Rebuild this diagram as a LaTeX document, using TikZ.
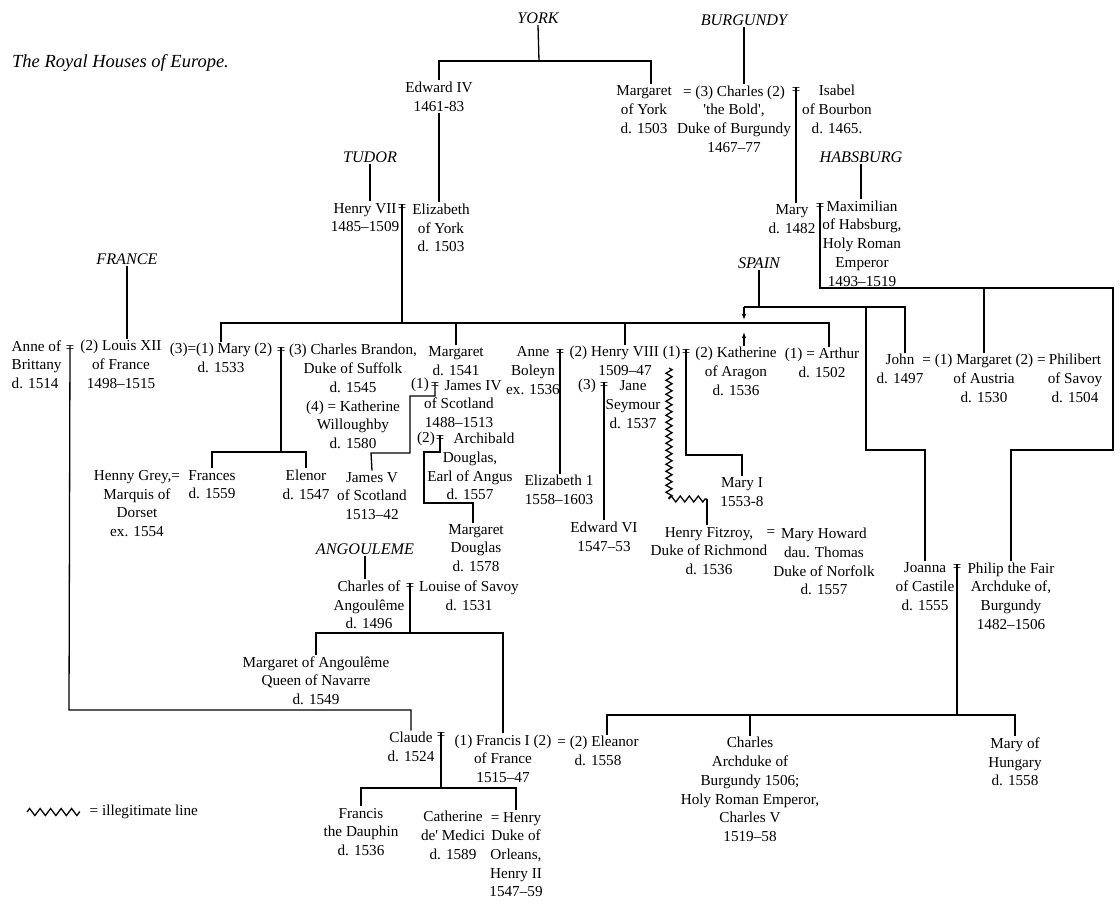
\documentclass[tikz,border=0pt]{standalone}
\usepackage{fontspec}
\setmainfont{Liberation Serif}
\usetikzlibrary{arrows.meta,decorations.pathmorphing}

\begin{document}
\begin{tikzpicture}[
    x=1pt, y=-1pt,
    person/.style={
        align=center, inner sep=1.5pt,
        font=\fontsize{15.2}{18.7}\selectfont
    },
    house/.style={
        inner sep=1.5pt,
        font=\fontsize{16.2}{18}\selectfont\itshape
    },
    wed/.style={
        inner sep=0pt, font=\fontsize{15}{15}\selectfont
    },
    link/.style={
        line width=1.3pt, color=black
    },
    arr/.style={
        link, -{Latex[length=6pt,width=4.5pt]}
    },
    illeg/.style={
        link, decorate,
        decoration={zigzag, segment length=7pt, amplitude=3pt}
    }
]

\useasboundingbox (0,0) rectangle (1120,904);

% Title and houses
\node[anchor=west, inner sep=0pt, font=\fontsize{18.5}{20}\selectfont\itshape] (title) at (12,63) {The Royal Houses of Europe.};
\node[house] (york) at (538,18) {YORK};
\node[house] (burg) at (744,20) {BURGUNDY};
\node[house] (tudor) at (370,157) {TUDOR};
\node[house] (habs) at (861,157) {HABSBURG};
\node[house] (france) at (127,259) {FRANCE};
\node[house] (spain) at (759,263) {SPAIN};
\node[house] (angou) at (365,549) {ANGOULEME};

% Nodes: York, Burgundy, Habsburg
\node[person] (edw) at (439,96.5) {Edward IV\\1461-83};
\node[person] (mgyork) at (644,109.5) {Margaret\\of York\\d. 1503};
\node[person] (charles) at (734,119) {= (3) Charles (2)\\\textquotesingle the Bold\textquotesingle,\\Duke of Burgundy\\1467–77};
\node[person] (isabel) at (837,109.5) {Isabel\\of Bourbon\\d. 1465.};
\node[person] (mary) at (792,219) {Mary\\d. 1482};
\node[person] (maxim) at (862,243.5) {Maximilian\\of Habsburg,\\Holy Roman\\Emperor\\1493–1519};
\node[wed] (wci) at (796,91) {=};
\node[wed] (wmm) at (820,207) {=};

% Nodes: Tudor
\node[person] (henry7) at (365,217.5) {Henry VII\\1485–1509};
\node[person] (eliz) at (441,228) {Elizabeth\\of York\\d. 1503};
\node[wed] (wh7) at (402,208) {=};

\node[person, anchor=west, align=left] (anneb) at (10,364.5) {Anne of\\Brittany\\d. 1514};
\node[person] (louis) at (121,364.5) {(2) Louis XII\\of France\\1498–1515};
\node[person] (marytud) at (221,358) {(3)=(1) Mary (2)\\d. 1533};
\node[person] (brandon) at (353,396.5) {(3) Charles Brandon,\\Duke of Suffolk\\d. 1545\\(4) = Katherine\\Willoughby\\d. 1580};
\node[person] (margt) at (456,361) {Margaret\\d. 1541};
\node[person] (james4) at (459,404) {\hspace*{28pt}James IV\\of Scotland\\1488–1513};
\node[person] (archib) at (470,466.5) {\hspace*{28pt}Archibald\\Douglas,\\Earl of Angus\\d. 1557};
\node[person] (lbl1) at (420,385) {(1)};
\node[person] (lbl2) at (426,439) {(2)};
\node[person] (anneboleyn) at (533,370.5) {Anne\\Boleyn\\ex. 1536};
\node[person] (henry8) at (625,361) {(2) Henry VIII (1)\\1509–47};
\node[person] (lbl3) at (587,386) {(3)};
\node[person] (jane) at (633,404.5) {Jane\\Seymour\\d. 1537};
\node[person] (kath) at (736,371.5) {(2) Katherine\\of Aragon\\d. 1536};
\node[person] (arthur) at (822,363) {(1) = Arthur\\d. 1502};
\node[wed] (wal) at (70,349) {=};
\node[wed] (wmb) at (281,351) {=};
\node[wed] (wj4) at (435,386) {=};
\node[wed] (wad) at (440,439) {=};
\node[wed] (wah) at (560,353) {=};
\node[wed] (wjs) at (604,386) {=};
\node[wed] (whk) at (686,353) {=};

\node[person] (henny) at (137,503.5) {Henny Grey,=\\Marquis of\\Dorset\\ex. 1554};
\node[person] (frances) at (212,484.5) {Frances\\d. 1559};
\node[person] (elenor) at (306,484.5) {Elenor\\d. 1547};
\node[person] (james5) at (372,496) {James V\\of Scotland\\1513–42};
\node[person] (margdoug) at (476,548) {Margaret\\Douglas\\d. 1578};
\node[person] (eliz1) at (559,490) {Elizabeth 1\\1558–1603};
\node[person] (edw6) at (604,536.5) {Edward VI\\1547–53};
\node[person] (mary1) at (742,492) {Mary I\\1553-8};
\node[person] (fitzroy) at (709,551) {Henry Fitzroy,\\Duke of Richmond\\d. 1536};
\node[person] (eqfm) at (771,533) {=};
\node[person] (howard) at (824,561.5) {Mary Howard\\dau. Thomas\\Duke of Norfolk\\d. 1557};

% Nodes: Spain and Habsburg children
\node[person] (john) at (900,369) {John\\d. 1497};
\node[person] (margaus) at (984,378.5) {= (1) Margaret (2) =\\of Austria\\d. 1530};
\node[person] (philibert) at (1075,378.5) {Philibert\\of Savoy\\d. 1504};
\node[person] (joanna) at (925,586.5) {Joanna\\of Castile\\d. 1555};
\node[person] (philip) at (1011,596) {Philip the Fair\\Archduke of,\\Burgundy\\1482–1506};
\node[wed] (wjp) at (957,568) {=};

% Nodes: France
\node[person] (charang) at (369,605) {Charles of\\Angoulême\\d. 1496};
\node[person] (louise) at (469,596) {Louise of Savoy\\d. 1531};
\node[person] (margang) at (316,680.5) {Margaret of Angoulême\\Queen of Navarre\\d. 1549};
\node[person] (claude) at (411,747) {Claude\\d. 1524};
\node[person] (francis) at (503,758.5) {(1) Francis I (2)\\of France\\1515–47};
\node[person] (eleanor) at (598,751) {= (2) Eleanor\\d. 1558};
\node[person] (charles5) at (750,789.5) {Charles\\Archduke of\\Burgundy 1506;\\Holy Roman Emperor,\\Charles V\\1519–58};
\node[person] (maryhun) at (1015,762) {Mary of\\Hungary\\d. 1558};
\node[person] (dauphin) at (361,832) {Francis\\the Dauphin\\d. 1536};
\node[person] (catherine) at (453,835.5) {Catherine\\de\textquotesingle{} Medici\\d. 1589};
\node[person] (henry2) at (516,854.5) {= Henry\\Duke of\\Orleans,\\Henry II\\1547–59};
\node[wed] (wcl) at (410,587) {=};
\node[wed] (wcf) at (441,736) {=};

% Legend
\coordinate (lg1) at (27,812);
\coordinate (lg2) at (80,812);
\node[person, anchor=west] (legend) at (88,812) {= illegitimate line};

% Junctions
\coordinate (yk) at (539,61);
\coordinate (tb) at (402,323);
\coordinate (tbe) at (829,323);
\coordinate (spl) at (744,307);
\coordinate (spr) at (905,307);
\coordinate (jj) at (866,307);
\coordinate (cas) at (866,450);
\coordinate (kdn) at (744,320);
\coordinate (kup) at (744,332);
\coordinate (hb) at (1113,288);
\coordinate (hbd) at (1113,450);
\coordinate (mab) at (984,288);
\coordinate (clj) at (69,710);
\coordinate (mbj) at (281,452);
\coordinate (j1) at (410,396);
\coordinate (j2) at (371,453);
\coordinate (a1) at (424,452);
\coordinate (a2) at (473,503);
\coordinate (m1j) at (686,455);
\coordinate (wv1) at (669,368);
\coordinate (wv2) at (669,499);
\coordinate (wv3) at (707,499);
\coordinate (aj) at (410,633);
\coordinate (fj) at (441,788);
\coordinate (cj) at (957,715);

% Lines
\draw[link] (york.south) -- (yk);
\draw[link] (edw.north) |- (yk) -| ([xshift=7pt]mgyork.north);
\draw[link] (edw.south) -- (edw.south |- eliz.north);
\draw[link] (burg.south) -- (burg.south |- charles.north);
\draw[link] (wci.north) -- (wci.north |- mary.north);
\draw[link] (habs.south) -- (habs.south |- maxim.north);
\draw[link] (wmm.north) |- (hb) -- (hbd) -| (philip.north);
\draw[link] (mab) -- (mab |- margaus.north);
\draw[link] (tudor.south) -- (tudor.south |- henry7.north);
\draw[link] (wh7.north) -- (tb);
\draw[link] (marytud.north) |- (tbe) -- (tbe |- arthur.north);
\draw[link] (margt.north) -- (margt.north |- tb);
\draw[link] (henry8.north) -- (henry8.north |- tb);
\draw[link] (spain.south) -- (spain.south |- spl);
\draw[link] (spl) -- (spr) -- (spr |- john.north);
\draw[arr] (spl) -- (kdn);
\draw[arr] (kath.north -| kup) -- (kup);
\draw[link] (jj) -- (cas) -| (joanna.north);
\draw[link] (france.south) -- (france.south |- louis.north);
\draw[link] (wal.north) -- (clj) -| (claude.north);
\draw[link] (wmb.north) -- (mbj);
\draw[link] (frances.north) |- (mbj) -| (elenor.north);
\draw[link] (wj4.north) |- (j1) |- (j2) -- (james5.north);
\draw[link] (wad.north) |- (a1) |- (a2) -- (a2 |- margdoug.north);
\draw[link] (wah.north) -- (wah.north |- eliz1.north);
\draw[link] (wjs.north) -- (wjs.north |- edw6.north);
\draw[link] (whk.north) -- (m1j) -| (mary1.north);
\draw[illeg] (wv1) -- (wv2);
\draw[illeg, decoration={segment length=9pt}] (wv2) -- (wv3);
\draw[link] (wv3) -- (wv3 |- fitzroy.north);
\draw[link] (angou.south) -- (angou.south |- charang.north);
\draw[link] (wcl.north) -- (aj);
\draw[link] (margang.north) |- (aj) -| (francis.north);
\draw[link] (wcf.north) -- (fj);
\draw[link] (dauphin.north) |- (fj) -| (henry2.north);
\draw[link] (wjp.north) -- (cj);
\draw[link] ([xshift=9pt]eleanor.north) |- (cj) -| (maryhun.north);
\draw[link] (charles5.north) -- (charles5.north |- cj);
\draw[illeg, decoration={segment length=10.5pt, amplitude=3.5pt}] (lg1) -- (lg2);

\end{tikzpicture}
\end{document}
